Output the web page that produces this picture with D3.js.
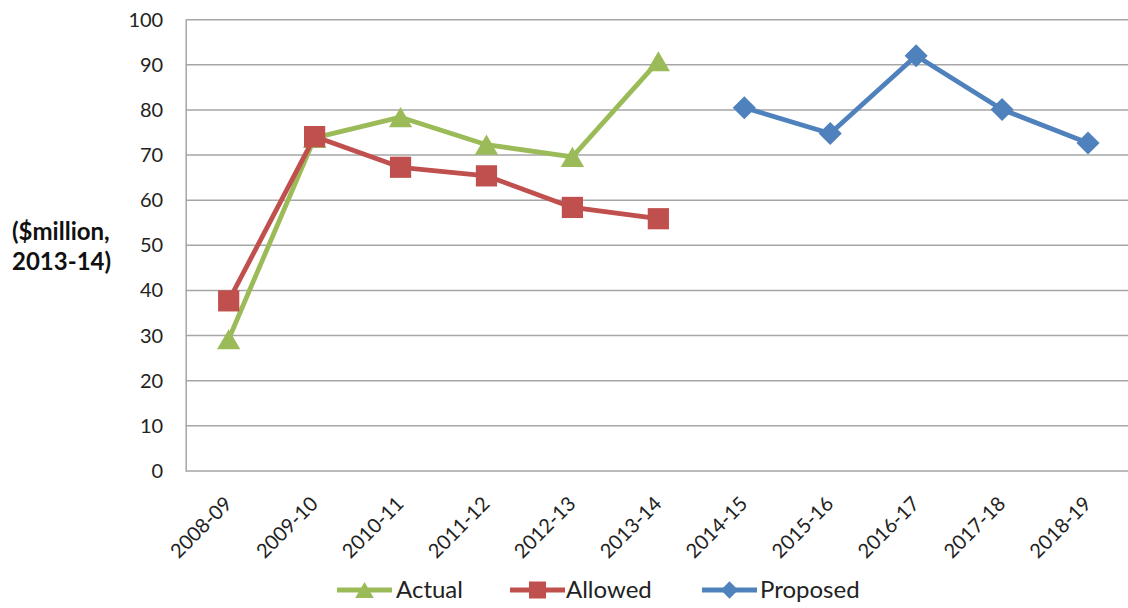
<!DOCTYPE html>
<html>
<head>
<meta charset="utf-8">
<script src="https://cdn.jsdelivr.net/npm/d3@7"></script>
<style>
  html, body { margin: 0; padding: 0; background: #fff; }
  svg { display: block; font-family: Lato, "Open Sans", sans-serif; }
</style>
</head>
<body>
<svg id="chart" width="1128" height="608"></svg>
<script>
// Financial years on the category axis
const years = ["2008-09", "2009-10", "2010-11", "2011-12", "2012-13", "2013-14",
               "2014-15", "2015-16", "2016-17", "2017-18", "2018-19"];

// Series values ($million, 2013-14); null where a series has no value
const actual   = [29.2, 73.8, 78.4, 72.3, 69.6, 90.8, null, null, null, null, null];
const allowed  = [37.7, 74.1, 67.3, 65.4, 58.4, 55.9, null, null, null, null, null];
const proposed = [null, null, null, null, null, null, 80.5, 74.8, 92.0, 80.1, 72.7];

const yTicks = [0, 10, 20, 30, 40, 50, 60, 70, 80, 90, 100];

const svg = d3.select("#chart");
const plotLeft = 185.7, plotRight = 1131, plotTop = 19.7, plotBottom = 471;

const x = d3.scalePoint().domain(years).range([plotLeft, plotRight]).padding(0.5);
const y = d3.scaleLinear().domain([0, 100]).range([plotBottom, plotTop]);

// Horizontal gridlines
svg.append("g")
  .selectAll("line")
  .data(yTicks.filter(t => t > 0))
  .join("line")
  .attr("x1", plotLeft).attr("x2", plotRight)
  .attr("y1", d => y(d)).attr("y2", d => y(d))
  .attr("stroke", "#a6a6a6").attr("stroke-width", 1.5);

// Value axis
const yAxis = svg.append("g")
  .attr("transform", `translate(${plotLeft},0)`)
  .call(d3.axisLeft(y).tickValues(yTicks).tickSize(0).tickPadding(22.5));
yAxis.select(".domain").attr("stroke", "#a6a6a6").attr("stroke-width", 1.5);
yAxis.selectAll("text").attr("font-size", 20).attr("fill", "#222")
  .attr("font-family", "Lato, sans-serif");

// Category axis baseline and rotated labels
const xAxis = svg.append("g")
  .attr("transform", `translate(0,${plotBottom})`)
  .call(d3.axisBottom(x).tickSize(0).tickPadding(0));
xAxis.select(".domain").attr("stroke", "#a6a6a6").attr("stroke-width", 1.5)
  .attr("d", `M${plotLeft},0H${plotRight}`);
xAxis.selectAll("text")
  .attr("font-size", 20).attr("fill", "#222")
  .attr("font-family", "Lato, sans-serif")
  .attr("text-anchor", "end")
  .attr("dy", 0)
  .attr("transform", "translate(4,34) rotate(-45)");

// Axis title
const title = svg.append("text")
  .attr("font-weight", "bold").attr("font-size", 24).attr("fill", "#111")
  .attr("text-anchor", "start");
title.append("tspan").attr("x", 12).attr("y", 240).text("($million,");
title.append("tspan").attr("x", 12).attr("y", 270).text("2013-14)");

// Rotated square used for the diamond markers
const diamond = {
  draw(context, size) {
    const r = Math.sqrt(size / 2);
    context.moveTo(0, -r);
    context.lineTo(r, 0);
    context.lineTo(0, r);
    context.lineTo(-r, 0);
    context.closePath();
  }
};

// Triangle centred on its bounding box
const triangle = {
  draw(context, size) {
    const s = Math.sqrt(size * 4 / Math.sqrt(3));
    const h = s * Math.sqrt(3) / 2;
    context.moveTo(0, -h / 2);
    context.lineTo(s / 2, h / 2);
    context.lineTo(-s / 2, h / 2);
    context.closePath();
  }
};

const series = [
  { name: "Actual",   values: actual,   color: "#9bbb59", symbol: triangle,        size: 235, legendSize: 150 },
  { name: "Allowed",  values: allowed,  color: "#c0504d", symbol: d3.symbolSquare, size: 450, legendSize: 290 },
  { name: "Proposed", values: proposed, color: "#4f81bd", symbol: diamond,         size: 265, legendSize: 150 }
];

const line = d3.line()
  .defined(d => d.v !== null)
  .x(d => x(d.year))
  .y(d => y(d.v));

series.forEach(s => {
  const pts = years.map((year, i) => ({ year, v: s.values[i] }));
  const g = svg.append("g");
  g.append("path")
    .datum(pts)
    .attr("fill", "none")
    .attr("stroke", s.color)
    .attr("stroke-width", 4.8)
    .attr("stroke-linejoin", "round")
    .attr("d", line);
  g.selectAll("path.marker")
    .data(pts.filter(d => d.v !== null))
    .join("path")
    .attr("class", "marker")
    .attr("transform", d => `translate(${x(d.year)},${y(d.v)})`)
    .attr("d", d3.symbol().type(s.symbol).size(s.size))
    .attr("fill", s.color);
});

// Legend
const legendItems = [
  { s: series[0], x0: 337, x1: 392, tx: 396 },
  { s: series[1], x0: 510, x1: 565, tx: 566 },
  { s: series[2], x0: 702, x1: 757, tx: 760 }
];
const ly = 590;
legendItems.forEach(it => {
  const g = svg.append("g");
  g.append("line")
    .attr("x1", it.x0).attr("x2", it.x1).attr("y1", ly).attr("y2", ly)
    .attr("stroke", it.s.color).attr("stroke-width", 4.8);
  g.append("path")
    .attr("transform", `translate(${(it.x0 + it.x1) / 2},${ly})`)
    .attr("d", d3.symbol().type(it.s.symbol).size(it.s.legendSize))
    .attr("fill", it.s.color);
  g.append("text")
    .attr("x", it.tx).attr("y", ly + 8)
    .attr("font-size", 24).attr("fill", "#222")
    .text(it.s.name);
});
</script>
</body>
</html>
